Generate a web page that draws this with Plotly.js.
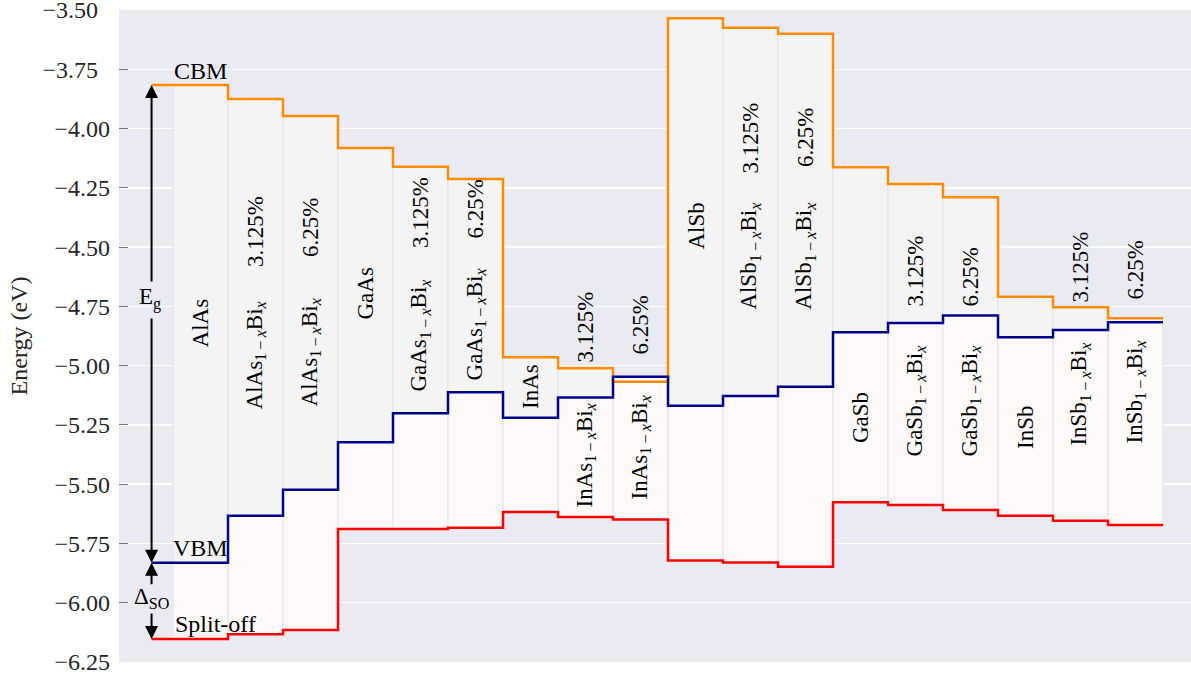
<!DOCTYPE html>
<html>
<head>
<meta charset="utf-8">
<script src="https://cdn.plot.ly/plotly-3.0.1.min.js"></script>
<style>html,body{margin:0;padding:0;background:#fff;}#chart{width:1191px;height:681px;}</style>
</head>
<body>
<div id="chart"></div>
<script>
// ---- data ----
const compounds = ['AlAs','AlAs','AlAs','GaAs','GaAs','GaAs','InAs','InAs','InAs',
                   'AlSb','AlSb','AlSb','GaSb','GaSb','GaSb','InSb','InSb','InSb'];
const concentrations = ['', '3.125%', '6.25%', '', '3.125%', '6.25%', '', '3.125%', '6.25%',
                        '', '3.125%', '6.25%', '', '3.125%', '6.25%', '', '3.125%', '6.25%'];
const cbm = [-3.816, -3.875, -3.947, -4.082, -4.161, -4.213, -4.965, -5.011, -5.068,
             -3.534, -3.575, -3.600, -4.163, -4.234, -4.290, -4.709, -4.754, -4.800];
const vbm = [-5.832, -5.633, -5.524, -5.323, -5.201, -5.112, -5.220, -5.134, -5.047,
             -5.169, -5.128, -5.089, -4.859, -4.820, -4.789, -4.880, -4.850, -4.817];
const splitOff = [-6.153, -6.133, -6.115, -5.689, -5.689, -5.684, -5.617, -5.639, -5.649,
                  -5.822, -5.831, -5.848, -5.576, -5.588, -5.609, -5.633, -5.654, -5.672];
const yTicks = [-6.25, -6.00, -5.75, -5.50, -5.25, -5.00, -4.75, -4.50, -4.25, -4.00, -3.75, -3.50];

// ---- layout helpers (label placement, not data) ----
const nameY = [-4.820, -4.955, -4.942, -4.698, -4.871, -4.824, -5.088, -5.377, -5.343,
               -4.411, -4.538, -4.538, -5.219, -5.149, -5.149, -5.261, -5.120, -5.111];
const pctY  = [null, -4.434, -4.417, null, -4.354, -4.339, null, -4.837, -4.829,
               null, -4.040, -4.038, null, -4.601, -4.626, null, -4.584, -4.597];
const lineStartX = -0.89;

const FONT = '"Liberation Serif", "Times New Roman", serif';
const n = cbm.length;
const idx = cbm.map((_, i) => i);

function stepX() {
  const xs = [lineStartX];
  for (let i = 1; i < n; i++) xs.push(i - 0.5);
  xs.push(n - 0.5);
  return xs;
}
function stepY(arr) { return arr.concat([arr[arr.length - 1]]); }

function compoundLabel(c, conc) {
  if (!conc) return c;
  return c + '<sub>1\u2009\u2212\u2009<i>x</i></sub>Bi<sub><i>x</i></sub>';
}

const traces = [
  {type: 'bar', x: idx, base: vbm, y: cbm.map((c, i) => c - vbm[i]), width: 1,
   marker: {color: '#F4F4F4', line: {color: '#E3E3EC', width: 1}}, hoverinfo: 'skip', showlegend: false},
  {type: 'bar', x: idx, base: splitOff, y: vbm.map((v, i) => v - splitOff[i]), width: 1,
   marker: {color: '#FDF9F9', line: {color: '#E3E3EC', width: 1}}, hoverinfo: 'skip', showlegend: false},
  {type: 'scatter', mode: 'lines', x: stepX(), y: stepY(cbm), line: {shape: 'hv', color: '#FF8C00', width: 2.5}, showlegend: false},
  {type: 'scatter', mode: 'lines', x: stepX(), y: stepY(vbm), line: {shape: 'hv', color: '#00008B', width: 2.5}, showlegend: false},
  {type: 'scatter', mode: 'lines', x: stepX(), y: stepY(splitOff), line: {shape: 'hv', color: '#FF0000', width: 2.5}, showlegend: false}
];

const annotations = [];
for (let i = 0; i < n; i++) {
  annotations.push({x: i, y: nameY[i], xref: 'x', yref: 'y', text: compoundLabel(compounds[i], concentrations[i]),
    showarrow: false, textangle: -90, font: {family: FONT, size: 23, color: '#000'}, xanchor: 'center', yanchor: 'middle'});
  if (concentrations[i]) {
    annotations.push({x: i, y: pctY[i], xref: 'x', yref: 'y', text: concentrations[i],
      showarrow: false, textangle: -90, font: {family: FONT, size: 23, color: '#000'}, xanchor: 'center', yanchor: 'middle'});
  }
}
const lblFont = {family: FONT, size: 24, color: '#000'};
annotations.push({x: 0, y: -3.757, xref: 'x', yref: 'y', text: 'CBM', showarrow: false, font: lblFont});
annotations.push({x: 0, y: -5.769, xref: 'x', yref: 'y', text: 'VBM', showarrow: false, font: lblFont});
annotations.push({x: 0.264, y: -6.090, xref: 'x', yref: 'y', text: 'Split-off', showarrow: false, font: lblFont});
// E_g arrows
annotations.push({x: lineStartX - 0.03, y: -4.715, xref: 'x', yref: 'y', text: 'E<sub>g</sub>', showarrow: false, font: {family: FONT, size: 23, color: '#000'}});
function arrow(yTail, yHead) {
  return {x: lineStartX, y: yHead, ax: lineStartX, ay: yTail, xref: 'x', yref: 'y', axref: 'x', ayref: 'y',
    text: '', showarrow: true, arrowhead: 2, arrowsize: 1.3, arrowwidth: 2, arrowcolor: '#000', standoff: 0, startstandoff: 0};
}
annotations.push(arrow(-4.651, cbm[0]));
annotations.push(arrow(-4.795, vbm[0]));
annotations.push({x: lineStartX, y: -5.980, xref: 'x', yref: 'y', text: '\u0394<sub>SO</sub>', showarrow: false, font: {family: FONT, size: 23, color: '#000'}});
annotations.push(arrow(-5.929, vbm[0]));
annotations.push(arrow(-6.039, splitOff[0]));

const tickText = yTicks.map(v => {
  const s = '\u2212' + Math.abs(v).toFixed(2);
  return (v > -3.8) ? s + '\u2002' : s;
});

const layout = {
  width: 1191, height: 681,
  margin: {l: 119, r: 0, t: 10, b: 19, pad: 0},
  paper_bgcolor: '#FFFFFF', plot_bgcolor: '#EAEAF2',
  barmode: 'overlay', bargap: 0,
  showlegend: false,
  xaxis: {range: [-1.482, 18.009], showgrid: false, zeroline: false, showticklabels: false, ticks: '', showline: false, fixedrange: true},
  yaxis: {range: [-6.2503, -3.4997], tickvals: yTicks, ticktext: tickText, showgrid: true, gridcolor: '#FFFFFF', gridwidth: 1.6,
    zeroline: false, showline: false, ticks: 'inside', ticklen: 9, tickcolor: '#777777', tickwidth: 1.2,
    ticklabelstandoff: 8, ticklabeloverflow: 'allow',
    tickfont: {family: FONT, size: 24, color: '#262626'},
    title: {text: 'Energy (eV)', font: {family: FONT, size: 24, color: '#262626'}, standoff: 8}, automargin: false},
  annotations: annotations
};

Plotly.newPlot('chart', traces, layout, {displayModeBar: false, staticPlot: true});
</script>
</body>
</html>
